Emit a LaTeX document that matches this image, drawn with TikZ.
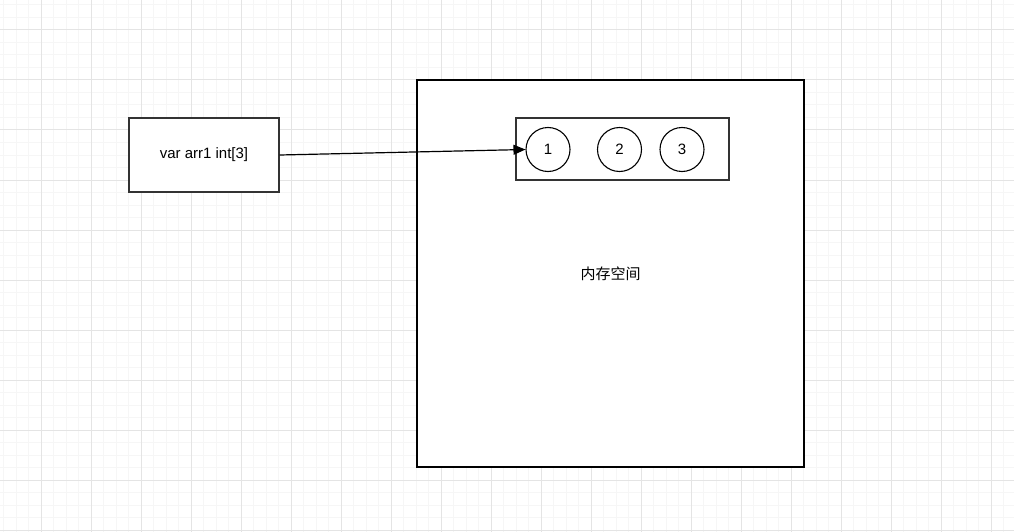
\documentclass[tikz,border=0pt]{standalone}
\usepackage{fontspec}
\setmainfont{Liberation Sans}
\newfontfamily\cjkfont{Noto Sans CJK SC}
\usetikzlibrary{positioning,arrows.meta}
\definecolor{gridminor}{HTML}{F6F6F6}
\definecolor{gridmajor}{HTML}{E4E4E4}
\definecolor{boxline}{HTML}{333333}
\tikzset{
  fig/.style={font=\fontsize{15pt}{18pt}\selectfont},
  minorline/.style={gridminor,line width=1pt},
  majorline/.style={gridmajor,line width=1pt},
  varbox/.style={draw=boxline,line width=1.2pt,minimum width=150pt,minimum height=74pt,
                 inner sep=0pt,fill=white},
  membox/.style={draw=black,line width=1.2pt,minimum width=387pt,minimum height=387pt,
                 inner sep=0pt,fill=white},
  arrbox/.style={draw=boxline,line width=1.2pt,minimum width=213pt,minimum height=62pt,
                 inner sep=0pt},
  cell/.style={draw=black,line width=1.1pt,circle,minimum size=44pt,inner sep=0pt},
  ln/.style={-{Triangle[length=12pt,width=10pt]},line width=1.2pt},
}
\begin{document}
\begin{tikzpicture}[fig,x=1pt,y=-1pt]
\useasboundingbox (0,0) rectangle (1014,532);
\fill[white] (0,0) rectangle (1014,532);

% background grid
\foreach \i in {0,...,81} \draw[minorline] (3.5+12.5*\i,0) -- (3.5+12.5*\i,532);
\foreach \j in {0,...,42} \draw[minorline] (0,5+12.5*\j) -- (1014,5+12.5*\j);
\foreach \i in {0,...,20} \draw[majorline] (41+50*\i,0) -- (41+50*\i,532);
\foreach \j in {0,...,10} \draw[majorline] (0,30+50*\j) -- (1014,30+50*\j);

% memory
\node[membox] (mem) at (610.5,273.5) {\cjkfont 内存空间};
\node[arrbox] (arr) at (622.5,149) {};
\node[cell] (c1) at (548,149.5) {1};
\node[cell] (c2) at (619.5,149.5) {2};
\node[cell] (c3) at (682,149.5) {3};

% variable
\node[varbox] (var) at (204,155) {var arr1 int[3]};

\draw[ln] (var.east) -- (c1.west);

\end{tikzpicture}
\end{document}
